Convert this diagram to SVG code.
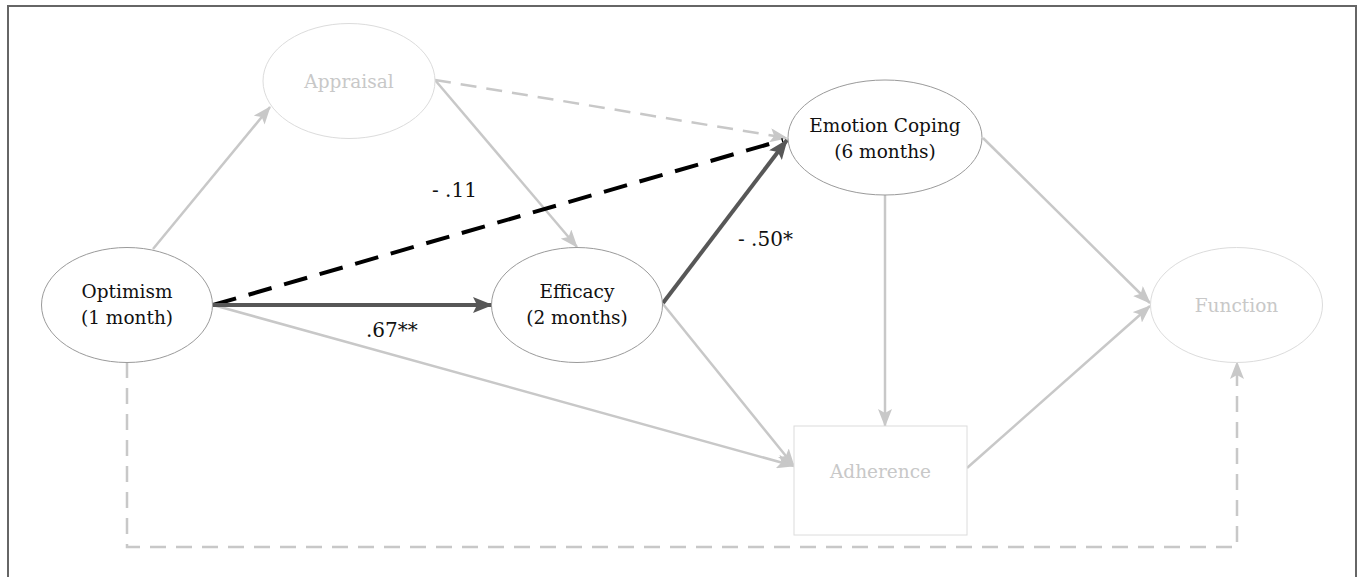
<svg xmlns="http://www.w3.org/2000/svg" width="1360" height="577" viewBox="0 0 1360 577">
<style>
text{font-family:'DejaVu Serif',serif}
.lbl{font-size:18.5px;text-anchor:middle;fill:#111}
.faded{fill:#c8c8c8}
.coef{font-size:20px;fill:#111}
.nd{fill:#fff;stroke:#9a9a9a;stroke-width:1}
.ndf{fill:#fff;stroke:#dcdcdc;stroke-width:1}
.lg{stroke:#c8c8c8;stroke-width:2.5;fill:none}
.lgd{stroke:#c8c8c8;stroke-width:2.5;fill:none;stroke-dasharray:16 10}
.dk{stroke:#575757;stroke-width:4;fill:none}
.bk{stroke:#000;stroke-width:4;fill:none;stroke-dasharray:24 13}
</style>
<defs>
<marker id="al" markerUnits="userSpaceOnUse" markerWidth="18" markerHeight="14" refX="17" refY="7" orient="auto"><path d="M0,0 L18,7 L0,14 L4,7 Z" fill="#c8c8c8"/></marker>
<marker id="ad" markerUnits="userSpaceOnUse" markerWidth="20" markerHeight="16" refX="19" refY="8" orient="auto"><path d="M0,0 L20,8 L0,16 L4,8 Z" fill="#575757"/></marker>
</defs>
<rect x="0" y="0" width="1360" height="577" fill="#fff"/>
<rect x="8" y="6" width="1348" height="600" fill="none" stroke="#666" stroke-width="2"/>
<g id="connectors">
<line class="lg" x1="153" y1="249" x2="270" y2="107" marker-end="url(#al)"/>
<line class="lg" x1="435" y1="80" x2="577" y2="247" marker-end="url(#al)"/>
<line class="lgd" x1="435" y1="80" x2="787" y2="138" marker-end="url(#al)"/>
<line class="lg" x1="213" y1="305" x2="794" y2="466" marker-end="url(#al)"/>
<line class="lg" x1="663" y1="304" x2="794" y2="466" marker-end="url(#al)"/>
<line class="lg" x1="885" y1="195" x2="885" y2="426" marker-end="url(#al)"/>
<line class="lg" x1="983" y1="138" x2="1150" y2="303" marker-end="url(#al)"/>
<line class="lg" x1="967" y1="468" x2="1150" y2="306" marker-end="url(#al)"/>
<polyline class="lgd" points="127,362 127,547 1237,547 1237,362" marker-end="url(#al)"/>
<line class="bk" x1="213" y1="305" x2="783" y2="140"/>
<line class="dk" x1="213" y1="305" x2="492" y2="305" marker-end="url(#ad)"/>
<line class="dk" x1="663" y1="303" x2="787" y2="140" marker-end="url(#ad)"/>
<text class="coef" x="432" y="197">- .11</text>
<text class="coef" x="366" y="337">.67**</text>
<text class="coef" x="738" y="246">- .50*</text>
</g>
<g id="appraisal">
<ellipse class="ndf" cx="349" cy="81" rx="86" ry="57.5"/>
<text class="lbl faded" x="349" y="88">Appraisal</text>
</g>
<g id="optimism">
<ellipse class="nd" cx="127" cy="305" rx="85.5" ry="57.5"/>
<text class="lbl" x="127" y="298">Optimism</text>
<text class="lbl" x="127" y="324">(1 month)</text>
</g>
<g id="efficacy">
<ellipse class="nd" cx="577" cy="305" rx="85.5" ry="57.5"/>
<text class="lbl" x="577" y="298">Efficacy</text>
<text class="lbl" x="577" y="324">(2 months)</text>
</g>
<g id="emotion">
<ellipse class="nd" cx="885" cy="137.5" rx="97" ry="57.5"/>
<text class="lbl" x="885" y="132">Emotion Coping</text>
<text class="lbl" x="885" y="158">(6 months)</text>
</g>
<g id="adherence">
<rect class="ndf" x="794" y="426" width="173" height="109"/>
<text class="lbl faded" x="880.5" y="478">Adherence</text>
</g>
<g id="function">
<ellipse class="ndf" cx="1236.5" cy="305" rx="86" ry="57.5"/>
<text class="lbl faded" x="1236.5" y="312">Function</text>
</g>
</svg>
